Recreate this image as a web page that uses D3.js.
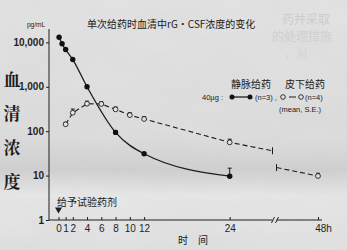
<!DOCTYPE html>
<html>
<head>
<meta charset="utf-8">
<script src="https://cdn.jsdelivr.net/npm/d3@7"></script>
<style>
  html, body { margin: 0; padding: 0; background: #dcdcdc; }
  svg { display: block; }
  text { fill: #1a1a1a; }
</style>
</head>
<body>
<svg id="chart" width="347" height="250"></svg>
<script>
// data
const ivTime = [0.08, 0.5, 1, 2, 4, 8, 12, 24];
const ivValue = [13000, 9300, 6900, 4100, 1000, 94, 31, 9.7];
const ivSE = [0, 0, 0, 0, 0, 10, 0, 5];

const scTime = [1, 2, 4, 6, 8, 10, 12, 24, 48];
const scValue = [143, 260, 415, 410, 310, 230, 188, 56, 9.8];
const scSE = [15, 55, 60, 50, 40, 30, 25, 10, 1.5];

const yTicks = [1, 10, 100, 1000, 10000];
const xTicks = [0, 1, 2, 4, 6, 8, 10, 12, 24, 48];
const breakFrom = 30, breakTo = 42;

const svg = d3.select("#chart");
const W = 347, H = 250;

// paper texture
const defs = svg.append("defs");
const f = defs.append("filter").attr("id", "paper");
f.append("feTurbulence").attr("type", "fractalNoise").attr("baseFrequency", "0.012 0.03")
  .attr("numOctaves", 3).attr("seed", 7);
f.append("feColorMatrix").attr("type", "matrix")
  .attr("values", "0 0 0 0 0.5  0 0 0 0 0.5  0 0 0 0 0.5  0.5 0 0 0 -0.1");
const band = defs.append("linearGradient").attr("id", "band").attr("x1", 0).attr("y1", 0).attr("x2", 0).attr("y2", 1);
band.append("stop").attr("offset", "0%").attr("stop-color", "#e3e3e3");
band.append("stop").attr("offset", "55%").attr("stop-color", "#dddddd");
band.append("stop").attr("offset", "68%").attr("stop-color", "#d0d0d0");
band.append("stop").attr("offset", "78%").attr("stop-color", "#e7e7e7");
band.append("stop").attr("offset", "100%").attr("stop-color", "#e1e1e1");
svg.append("rect").attr("width", W).attr("height", H).attr("fill", "url(#band)");
svg.append("rect").attr("width", W).attr("height", H).attr("filter", "url(#paper)").attr("opacity", 0.35);

// faint bleed-through from the other page
const ghost = svg.append("g").attr("font-family", "Noto Sans CJK SC").attr("font-size", 12);
ghost.append("text").attr("x", 282).attr("y", 24).style("fill", "#cdcdcd").text("药并采取");
ghost.append("text").attr("x", 272).attr("y", 41).style("fill", "#d0d0d0").text("的处理措施");
ghost.append("text").attr("x", 284).attr("y", 58).style("fill", "#d4d4d4").text("，对");

const x = d3.scaleLinear()
  .domain([0, breakFrom, breakTo, 48])
  .range([58.5, 272.5, 276.5, 318]);
const y = d3.scaleLog().domain([1, 20000]).range([220, 29]);

const ink = "#1e1e1e";

// y axis
const yAxis = svg.append("g").attr("transform", "translate(49,0)")
  .call(d3.axisLeft(y).tickValues(yTicks).tickSize(3).tickPadding(2)
    .tickFormat(d3.format(",")));
yAxis.select(".domain").attr("stroke", ink).attr("d", "M0,29V220");
yAxis.selectAll(".tick line").attr("stroke", ink);
yAxis.selectAll(".tick text").attr("font-family", "Liberation Sans, Arial")
  .attr("font-size", 10).attr("font-weight", "bold").style("fill", ink);

// x axis
const xAxis = svg.append("g").attr("transform", "translate(0,220)")
  .call(d3.axisBottom(x).tickValues(xTicks).tickSizeInner(-3).tickSizeOuter(0).tickPadding(5)
    .tickFormat(d => d === 48 ? "48h" : d));
xAxis.select(".domain").remove();
xAxis.selectAll(".tick line").attr("stroke", ink);
xAxis.selectAll(".tick text").attr("font-family", "Liberation Sans, Arial")
  .attr("font-size", 10).style("fill", ink);
xAxis.selectAll(".tick text").filter(d => d === 48).attr("dx", "0.5em");
xAxis.append("line").attr("x1", 49).attr("x2", 272.5).attr("stroke", ink);
xAxis.append("line").attr("x1", 276.5).attr("x2", 322).attr("stroke", ink);
[271.5, 275.5].forEach(bx => {
  xAxis.append("line").attr("x1", bx).attr("y1", 3).attr("x2", bx + 3).attr("y2", -3)
    .attr("stroke", ink);
});

// where the dashed line is cut by the axis break (log interpolation 24 -> 48)
const v24 = scValue[scTime.indexOf(24)], v48 = scValue[scTime.indexOf(48)];
const cutAt = t => Math.pow(10, Math.log10(v24) + (Math.log10(v48) - Math.log10(v24)) * (t - 24) / 24);

const line = d3.line().x(d => x(d[0])).y(d => y(d[1]));

// subcutaneous: dashed
const scPts = scTime.map((t, i) => [t, scValue[i]]);
const scA = scPts.filter(d => d[0] <= 24).concat([[breakFrom, cutAt(breakFrom)]]);
const scB = [[breakTo, cutAt(breakTo)]].concat(scPts.filter(d => d[0] > 24));
[scA, scB].forEach(seg => {
  svg.append("path").attr("d", line(seg)).attr("fill", "none").attr("stroke", ink)
    .attr("stroke-width", 1.1).attr("stroke-dasharray", "5,3");
});
[[breakFrom, cutAt(breakFrom)], [breakTo, cutAt(breakTo)]].forEach(d => {
  svg.append("line").attr("x1", x(d[0])).attr("x2", x(d[0]))
    .attr("y1", y(d[1]) - 3.5).attr("y2", y(d[1]) + 3.5).attr("stroke", ink);
});

// intravenous: solid
const ivPts = ivTime.map((t, i) => [t, ivValue[i]]);
svg.append("path").attr("d", line.curve(d3.curveMonotoneX)(ivPts)).attr("fill", "none")
  .attr("stroke", ink).attr("stroke-width", 1.3);

// error bars (upper only)
function errBars(times, vals, se) {
  times.forEach((t, i) => {
    if (!se[i]) return;
    const cx = x(t), y0 = y(vals[i]), y1 = y(vals[i] + se[i]);
    svg.append("line").attr("x1", cx).attr("x2", cx).attr("y1", y0).attr("y2", y1).attr("stroke", ink);
    svg.append("line").attr("x1", cx - 2).attr("x2", cx + 2).attr("y1", y1).attr("y2", y1).attr("stroke", ink);
  });
}
errBars(scTime, scValue, scSE);
errBars(ivTime, ivValue, ivSE);

svg.selectAll(".sc").data(scPts).enter().append("circle")
  .attr("cx", d => x(d[0])).attr("cy", d => y(d[1])).attr("r", 2.4)
  .attr("fill", "#e4e4e4").attr("stroke", ink).attr("stroke-width", 0.9);
svg.selectAll(".iv").data(ivPts).enter().append("circle")
  .attr("cx", d => x(d[0])).attr("cy", d => y(d[1])).attr("r", 2.7).attr("fill", "#111");

// texts
const cjk = "Noto Sans CJK SC";
svg.append("text").attr("x", 87).attr("y", 28).attr("font-family", cjk).attr("font-size", 10)
  .text("单次给药时血清中rG・CSF浓度的变化");
svg.append("text").attr("x", 27).attr("y", 27).attr("font-family", "Liberation Sans, Arial")
  .attr("font-size", 6.5).text("pg/mL");

["血", "清", "浓", "度"].forEach((c, i) => {
  svg.append("text").attr("x", 12).attr("y", 86 + i * 34).attr("text-anchor", "middle")
    .attr("font-family", "Noto Serif CJK SC, " + cjk).attr("font-size", 17).attr("font-weight", "bold")
    .text(c);
});
svg.append("text").attr("x", 193).attr("y", 244).attr("text-anchor", "middle")
  .attr("font-family", cjk).attr("font-size", 10).text("时　间");

svg.append("text").attr("x", 57).attr("y", 206).attr("font-family", cjk).attr("font-size", 10)
  .text("给予试验药剂");
svg.append("path").attr("d", `M${x(0) - 3.5},207.5h7l-3.5,6z`).attr("fill", ink);

// legend
const lg = svg.append("g").attr("font-size", 9);
lg.append("text").attr("x", 231).attr("y", 88).attr("font-family", cjk).attr("font-size", 10).text("静脉给药");
lg.append("text").attr("x", 285).attr("y", 88).attr("font-family", cjk).attr("font-size", 10).text("皮下给药");
lg.append("text").attr("x", 202).attr("y", 100).attr("font-family", "Liberation Sans, Arial")
  .attr("font-size", 7.5).text("40µg :");
lg.append("line").attr("x1", 232).attr("x2", 250).attr("y1", 97).attr("y2", 97).attr("stroke", ink).attr("stroke-width", 1.3);
[232, 250].forEach(cx => lg.append("circle").attr("cx", cx).attr("cy", 97).attr("r", 2.5).attr("fill", "#111"));
lg.append("text").attr("x", 255).attr("y", 100).attr("font-family", "Liberation Sans, Arial")
  .attr("font-size", 7.5).text("(n=3) ,");
lg.append("line").attr("x1", 289).attr("x2", 296).attr("y1", 97).attr("y2", 97).attr("stroke", ink);
[283, 301].forEach(cx => lg.append("circle").attr("cx", cx).attr("cy", 97).attr("r", 2.3)
  .attr("fill", "#e4e4e4").attr("stroke", ink).attr("stroke-width", 0.9));
lg.append("text").attr("x", 305).attr("y", 100).attr("font-family", "Liberation Sans, Arial")
  .attr("font-size", 7.5).text("(n=4)");
lg.append("text").attr("x", 279).attr("y", 112).attr("font-family", "Liberation Sans, Arial")
  .attr("font-size", 7.5).text("(mean, S.E.)");
</script>
</body>
</html>
